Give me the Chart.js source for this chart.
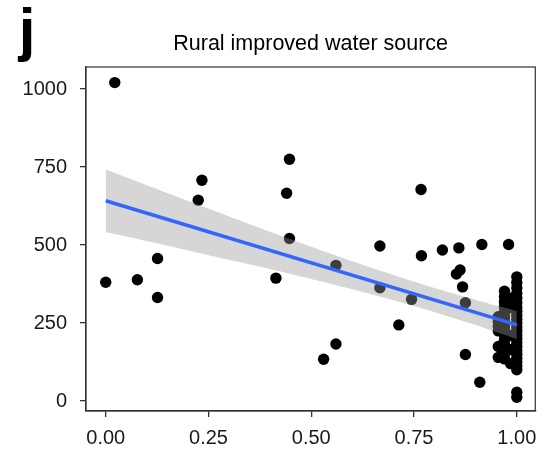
<!DOCTYPE html>
<html><head><meta charset="utf-8">
<script src="https://cdn.jsdelivr.net/npm/chart.js@4/dist/chart.umd.min.js"></script>
<style>html,body{margin:0;padding:0;background:#fff}#wrap{width:541px;height:451px}</style>
</head><body><div id="wrap"><canvas id="c" width="541" height="451"></canvas></div>
<script>
const chartTitle = "Rural improved water source";
const panelLabel = "j";
const xTicks = [0, 0.25, 0.5, 0.75, 1];
const yTicks = [0, 250, 500, 750, 1000];

// scattered countries (x = share with improved water source, y = value)
const pointX = [0.00, 0.022, 0.077, 0.126, 0.126, 0.225, 0.234, 0.414, 0.44, 0.447, 0.447,
  0.53, 0.56, 0.56, 0.667, 0.667, 0.713, 0.744, 0.767, 0.768, 0.819, 0.853, 0.859, 0.862,
  0.868, 0.875, 0.875, 0.91, 0.915, 0.98,
  1, 1, 1, 1, 1, 1, 1, 1, 1, 1, 1, 1, 1, 1, 1, 1, 1, 1, 1, 1, 1, 1, 1, 1, 1,
  0.97, 0.97, 0.97, 0.97, 0.97, 0.97, 0.97, 0.97, 0.97, 0.97, 0.97, 0.97, 0.97, 0.97, 0.97,
  0.955, 0.955, 0.955, 0.955, 0.955, 0.955,
  0.985, 0.985, 0.985, 0.985, 0.985];
const pointY = [381, 1021, 389, 457, 332, 644, 708, 394, 666, 775, 521,
  134, 435, 183, 497, 363, 244, 326, 678, 466, 484, 407, 491, 420,
  366, 315, 149, 60, 502, 502,
  398, 380, 362, 345, 330, 315, 300, 288, 275, 262, 250, 237, 225, 212, 200, 187, 175, 162, 150, 137, 125, 112, 100, 28, 12,
  352, 335, 318, 302, 285, 270, 255, 240, 225, 210, 195, 180, 165, 150, 135,
  270, 255, 240, 225, 175, 140,
  330, 300, 210, 165, 120];

// fitted trend line and its confidence band
const fitX = [0, 1];
const fitY = [642, 244];
const bandX = [0, 0.1, 0.2, 0.3, 0.4, 0.5, 0.6, 0.7, 0.8, 0.9, 1.0];
const bandUpper = [742, 692, 642, 592, 543, 495, 448, 404, 362, 324, 289];
const bandLower = [542, 513, 483, 453, 423, 391, 358, 323, 285, 244, 199];

const FONT = "'Liberation Sans', Arial, Helvetica, sans-serif";
const zip = (xs, ys) => xs.map((x, i) => ({x, y: ys[i]}));

const decor = {
  id: 'decor',
  afterDraw(chart) {
    const ctx = chart.ctx, a = chart.chartArea;
    ctx.save();
    ctx.strokeStyle = '#333';
    ctx.lineWidth = 1.2;
    ctx.strokeRect(a.left, a.top, a.right - a.left, a.bottom - a.top);
    ctx.fillStyle = '#000';
    ctx.textAlign = 'center';
    ctx.textBaseline = 'middle';
    ctx.font = '21.5px ' + FONT;
    ctx.fillText(chartTitle, (a.left + a.right) / 2, 44);
    ctx.font = 'bold 60px ' + FONT;
    ctx.textBaseline = 'alphabetic';
    ctx.fillText(panelLabel, 27, 50);
    ctx.restore();
  }
};

new Chart(document.getElementById('c'), {
  type: 'scatter',
  data: {
    datasets: [
      { label: 'fit', type: 'line', data: zip(fitX, fitY), borderColor: '#3366FF', borderWidth: 3.5,
        pointRadius: 0, fill: false, order: 0, tension: 0 },
      { label: 'upper', type: 'line', data: zip(bandX, bandUpper), borderWidth: 0, borderColor: 'rgba(0,0,0,0)',
        pointRadius: 0, backgroundColor: 'rgba(153,153,153,0.4)', fill: {target: 2}, order: 1, tension: 0.2 },
      { label: 'lower', type: 'line', data: zip(bandX, bandLower), borderWidth: 0, borderColor: 'rgba(0,0,0,0)',
        pointRadius: 0, fill: false, order: 1, tension: 0.2 },
      { label: 'points', data: zip(pointX, pointY), backgroundColor: '#000', borderWidth: 0,
        pointRadius: 5.7, order: 2 }
    ]
  },
  options: {
    responsive: false,
    animation: false,
    devicePixelRatio: 1,
    layout: { padding: { top: 67, right: 3, left: 0, bottom: 0 } },
    plugins: { legend: { display: false }, tooltip: { enabled: false }, title: { display: false } },
    scales: {
      x: {
        type: 'linear', min: -0.048, max: 1.045,
        afterBuildTicks: s => { s.ticks = xTicks.map(v => ({value: v})); },
        afterFit: s => { s.height = 40; s.paddingLeft = 0; s.paddingRight = 0; },
        grid: { display: true, drawOnChartArea: false, drawTicks: true, tickLength: 6, color: '#333', lineWidth: 1.3 },
        border: { display: true, color: '#333', width: 1.2 },
        ticks: { color: '#1a1a1a', font: { size: 20, family: FONT }, padding: 9, maxRotation: 0,
          callback: v => Number(v).toFixed(2) }
      },
      y: {
        type: 'linear', min: -32, max: 1071,
        afterBuildTicks: s => { s.ticks = yTicks.map(v => ({value: v})); },
        afterFit: s => { s.width = 86; s.paddingTop = 0; s.paddingBottom = 0; },
        grid: { display: true, drawOnChartArea: false, drawTicks: true, tickLength: 6, color: '#333', lineWidth: 1.3 },
        border: { display: true, color: '#333', width: 1.2 },
        ticks: { color: '#1a1a1a', font: { size: 20, family: FONT }, padding: 13,
          callback: v => String(v) }
      }
    }
  },
  plugins: [decor]
});
</script></body></html>
